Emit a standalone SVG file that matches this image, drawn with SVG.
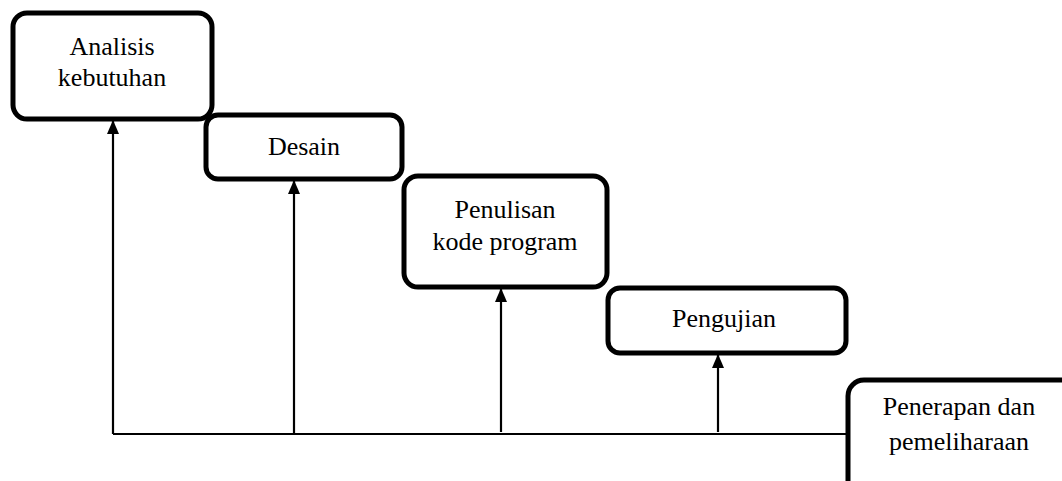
<svg xmlns="http://www.w3.org/2000/svg" width="1062" height="481" viewBox="0 0 1062 481">
<style>
.box{fill:#fff;stroke:#000;stroke-width:5}
.t{font-family:'Liberation Serif','Times New Roman',Times,serif;font-size:26px;fill:#000;text-anchor:middle}
.c{fill:none;stroke:#000;stroke-width:2.2}
</style>
<defs>
<marker id="ah" viewBox="0 0 14 12" refX="13" refY="6" markerWidth="14" markerHeight="12" markerUnits="userSpaceOnUse" orient="auto">
<path d="M0,0 L14,6 L0,12 Z" fill="#000"/>
</marker>
</defs>
<rect width="1062" height="481" fill="#fff"/>
<g id="connectors">
<path class="c" d="M113,434 H848"/>
<path class="c" d="M113,434 V121" marker-end="url(#ah)"/>
<path class="c" d="M294,434 V181" marker-end="url(#ah)"/>
<path class="c" d="M501,432 V289" marker-end="url(#ah)"/>
<path class="c" d="M718,432 V355" marker-end="url(#ah)"/>
</g>
<g id="n1">
<rect class="box" x="13" y="13" width="199" height="106" rx="14"/>
<text class="t" x="112" y="55">Analisis</text>
<text class="t" x="112" y="86">kebutuhan</text>
</g>
<g id="n2">
<rect class="box" x="206" y="115" width="196" height="64" rx="12"/>
<text class="t" x="304" y="155">Desain</text>
</g>
<g id="n3">
<rect class="box" x="404" y="176" width="203" height="111" rx="14"/>
<text class="t" x="505" y="218">Penulisan</text>
<text class="t" x="505" y="250">kode program</text>
</g>
<g id="n4">
<rect class="box" x="608" y="288" width="238" height="65" rx="12"/>
<text class="t" x="724" y="327">Pengujian</text>
</g>
<g id="n5">
<rect class="box" x="848" y="380" width="240" height="120" rx="16"/>
<text class="t" x="959" y="415">Penerapan dan</text>
<text class="t" x="959" y="450">pemeliharaan</text>
</g>
</svg>
